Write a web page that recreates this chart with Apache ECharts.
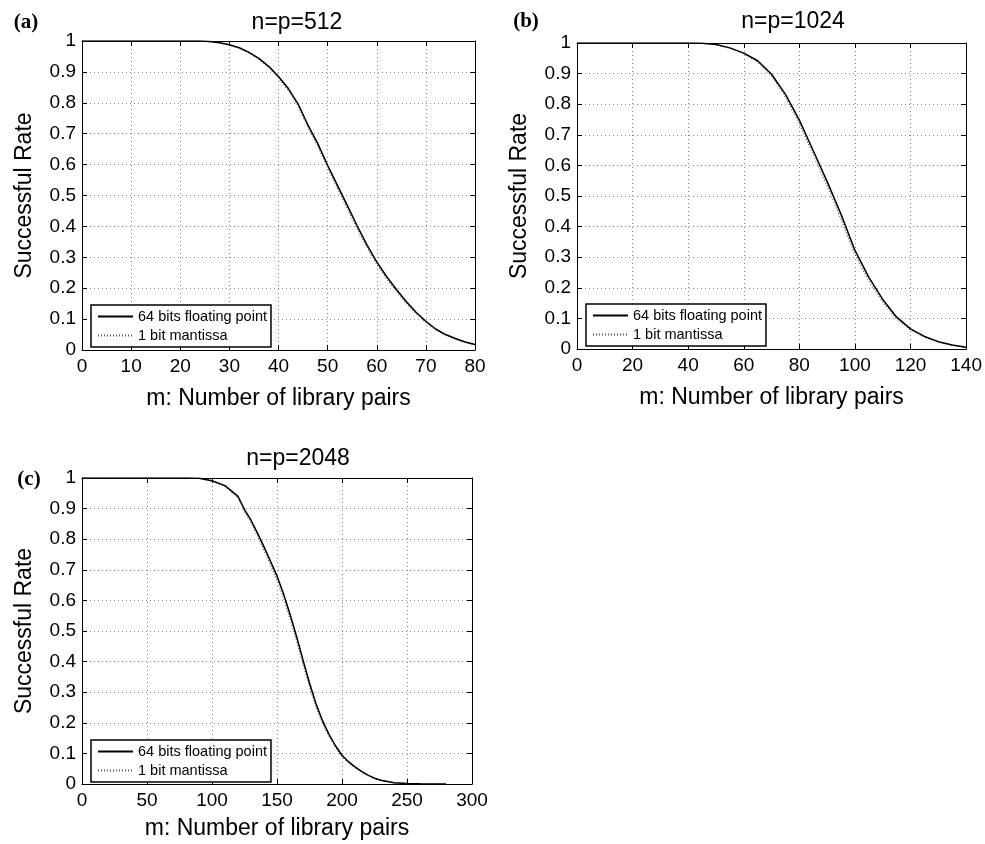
<!DOCTYPE html>
<html>
<head>
<meta charset="utf-8">
<script src="https://cdn.jsdelivr.net/npm/echarts@6/dist/echarts.min.js"></script>
<style>
  html, body { margin: 0; padding: 0; background: #fff; }
  #chart { width: 985px; height: 844px; }
</style>
</head>
<body>
<div id="chart"></div>
<script>
// (a) n=p=512
const mA = [0, 5, 10, 15, 20, 24, 26, 28, 30, 32, 34, 36, 38, 40, 42, 44, 46, 48, 50, 52, 54, 56, 58, 60, 62, 64, 66, 68, 70, 72, 74, 76, 78, 80];
const rateA64 = [1, 1, 1, 1, 1, 1, 0.998, 0.994, 0.988, 0.978, 0.963, 0.944, 0.918, 0.885, 0.846, 0.796, 0.728, 0.668, 0.598, 0.533, 0.468, 0.402, 0.340, 0.285, 0.238, 0.196, 0.157, 0.122, 0.093, 0.068, 0.050, 0.037, 0.026, 0.018];
const rateA1 = [1, 1, 1, 1, 1, 1, 0.998, 0.994, 0.987, 0.977, 0.961, 0.941, 0.914, 0.880, 0.840, 0.789, 0.720, 0.659, 0.589, 0.523, 0.457, 0.392, 0.331, 0.277, 0.230, 0.189, 0.151, 0.117, 0.089, 0.065, 0.048, 0.035, 0.025, 0.017];

// (b) n=p=1024
const mB = [0, 10, 20, 30, 40, 45, 50, 55, 60, 65, 70, 75, 80, 85, 90, 95, 100, 105, 110, 115, 120, 125, 130, 135, 140];
const rateB64 = [1, 1, 1, 1, 1, 0.999, 0.995, 0.984, 0.967, 0.942, 0.898, 0.832, 0.748, 0.648, 0.547, 0.440, 0.322, 0.234, 0.162, 0.104, 0.066, 0.041, 0.024, 0.013, 0.006];
const rateB1 = [1, 1, 1, 1, 1, 0.999, 0.995, 0.983, 0.965, 0.938, 0.892, 0.823, 0.736, 0.634, 0.532, 0.424, 0.308, 0.222, 0.153, 0.098, 0.062, 0.038, 0.022, 0.012, 0.005];

// (c) n=p=2048
const mC = [0, 20, 40, 60, 80, 90, 100, 110, 120, 125, 130, 135, 140, 145, 150, 155, 160, 165, 170, 175, 180, 185, 190, 195, 200, 205, 210, 215, 220, 225, 230, 240, 250, 260, 270, 280];
const rateC64 = [1, 1, 1, 1, 1, 0.999, 0.991, 0.975, 0.94, 0.897, 0.862, 0.82, 0.775, 0.728, 0.68, 0.622, 0.555, 0.483, 0.405, 0.33, 0.262, 0.207, 0.162, 0.125, 0.094, 0.073, 0.056, 0.041, 0.029, 0.019, 0.012, 0.004, 0.0015, 0.0005, 0.0002, 0];
const rateC1 = [1, 1, 1, 1, 1, 0.999, 0.99, 0.973, 0.936, 0.89, 0.854, 0.81, 0.764, 0.716, 0.666, 0.607, 0.54, 0.468, 0.391, 0.318, 0.251, 0.198, 0.155, 0.119, 0.089, 0.069, 0.053, 0.039, 0.027, 0.018, 0.011, 0.004, 0.0014, 0.0005, 0.0002, 0];

const seriesNames = ['64 bits floating point', '1 bit mantissa'];
const panelTitles = ['n=p=512', 'n=p=1024', 'n=p=2048'];
const panelTags = ['(a)', '(b)', '(c)'];
const xAxisName = 'm: Number of library pairs';
const yAxisName = 'Successful Rate';

const FONT = '"Liberation Sans", Arial, Helvetica, sans-serif';

// Plot area and decoration placement for each panel
const panels = [
  { m: mA, r64: rateA64, r1: rateA1, xmax: 80, xint: 10,
    grid: { left: 82, top: 41, width: 393, height: 309 },
    legend: { left: 91, top: 305 }, title: [297, 23], tag: [26, 23], nameGap: 37 },
  { m: mB, r64: rateB64, r1: rateB1, xmax: 140, xint: 20,
    grid: { left: 577, top: 43, width: 390, height: 306 },
    legend: { left: 586, top: 304 }, title: [793, 22], tag: [526, 22], nameGap: 37 },
  { m: mC, r64: rateC64, r1: rateC1, xmax: 300, xint: 50,
    grid: { left: 82, top: 478, width: 390, height: 306 },
    legend: { left: 91, top: 740 }, title: [298, 459], tag: [29, 480], nameGap: 33 }
];

const grids = [], xAxes = [], yAxes = [], series = [], legends = [], graphics = [];

panels.forEach((p, i) => {
  grids.push(Object.assign({ containLabel: false }, p.grid));

  // bottom axis with labels and the dotted grid
  xAxes.push({
    type: 'value', gridIndex: i, position: 'bottom', min: 0, max: p.xmax, interval: p.xint,
    name: xAxisName, nameLocation: 'middle', nameGap: p.nameGap,
    nameTextStyle: { fontFamily: FONT, fontSize: 23, color: '#000' },
    axisLine: { show: true, onZero: false, lineStyle: { color: '#000', width: 1 } },
    axisTick: { show: true, inside: true, length: 5, lineStyle: { color: '#000' } },
    axisLabel: { fontFamily: FONT, fontSize: 19, color: '#000', margin: 7 },
    splitLine: { show: true, lineStyle: { color: '#8a8a8a', type: [1, 3], width: 1 } }
  });
  // top edge of the box
  xAxes.push({
    type: 'value', gridIndex: i, position: 'top', min: 0, max: p.xmax, interval: p.xint,
    axisLine: { show: true, onZero: false, lineStyle: { color: '#000', width: 1 } },
    axisTick: { show: true, inside: true, length: 5, lineStyle: { color: '#000' } },
    axisLabel: { show: false }, splitLine: { show: false }
  });

  yAxes.push({
    type: 'value', gridIndex: i, position: 'left', min: 0, max: 1, interval: 0.1,
    name: yAxisName, nameLocation: 'middle', nameGap: 46, nameRotate: 90,
    nameTextStyle: { fontFamily: FONT, fontSize: 23, color: '#000' },
    axisLine: { show: true, onZero: false, lineStyle: { color: '#000', width: 1 } },
    axisTick: { show: true, inside: true, length: 5, lineStyle: { color: '#000' } },
    axisLabel: { fontFamily: FONT, fontSize: 19, color: '#000', margin: 6 },
    splitLine: { show: true, lineStyle: { color: '#8a8a8a', type: [1, 3], width: 1 } }
  });
  // right edge of the box
  yAxes.push({
    type: 'value', gridIndex: i, position: 'right', min: 0, max: 1, interval: 0.1,
    axisLine: { show: true, onZero: false, lineStyle: { color: '#000', width: 1 } },
    axisTick: { show: true, inside: true, length: 5, lineStyle: { color: '#000' } },
    axisLabel: { show: false }, splitLine: { show: false }
  });

  series.push({
    name: seriesNames[1], type: 'line', xAxisIndex: 2 * i, yAxisIndex: 2 * i,
    data: p.m.map((x, k) => [x, p.r1[k]]),
    symbol: 'none', silent: true, z: 2,
    lineStyle: { color: '#555', width: 1.2, type: [1, 2] }, itemStyle: { color: '#555' }
  });
  series.push({
    name: seriesNames[0], type: 'line', xAxisIndex: 2 * i, yAxisIndex: 2 * i,
    data: p.m.map((x, k) => [x, p.r64[k]]),
    symbol: 'none', silent: true, z: 3,
    lineStyle: { color: '#000', width: 1.5, type: 'solid' }, itemStyle: { color: '#000' }
  });

  // legend keys show only the line sample, no marker
  legends.push({
    data: seriesNames, orient: 'vertical', left: p.legend.left, top: p.legend.top,
    selectedMode: false, backgroundColor: '#fff', borderColor: '#000', borderWidth: 1.5,
    borderRadius: 0, padding: [4, 4, 4, 6], itemWidth: 35, itemHeight: 14, itemGap: 4,
    itemStyle: { opacity: 0 },
    textStyle: { fontFamily: FONT, fontSize: 14.5, color: '#000' }, z: 10
  });

  graphics.push({
    type: 'text', x: p.title[0], y: p.title[1],
    style: { text: panelTitles[i], fontFamily: FONT, fontSize: 23, fill: '#000', textAlign: 'center', textVerticalAlign: 'middle' }
  });
  graphics.push({
    type: 'text', x: p.tag[0], y: p.tag[1],
    style: { text: panelTags[i], fontFamily: '"Liberation Serif", "Times New Roman", serif', fontWeight: 'bold', fontSize: 21, fill: '#000', textAlign: 'center', textVerticalAlign: 'middle' }
  });
});

const chart = echarts.init(document.getElementById('chart'), null, { renderer: 'canvas' });
chart.setOption({
  animation: false,
  backgroundColor: '#fff',
  grid: grids,
  xAxis: xAxes,
  yAxis: yAxes,
  legend: legends,
  series: series,
  graphic: graphics
});
</script>
</body>
</html>
